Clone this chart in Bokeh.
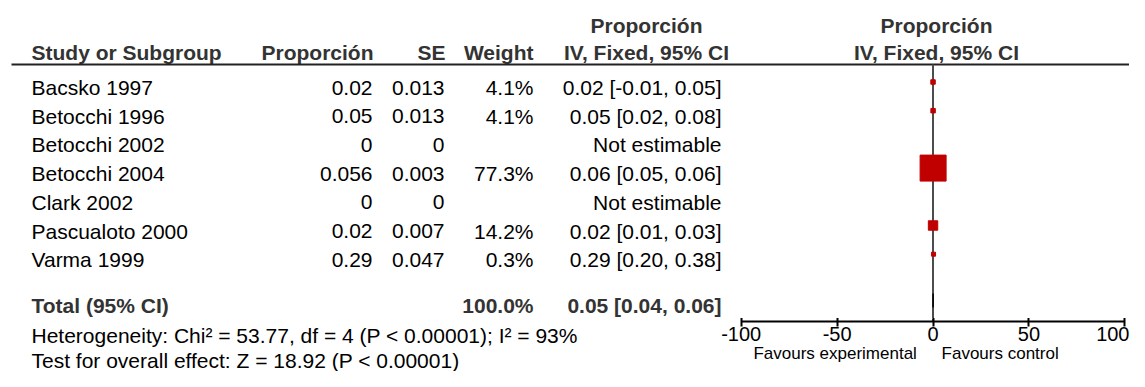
from bokeh.plotting import figure
from bokeh.layouts import column, row
from bokeh.models import Range1d, LinearAxis, FixedTicker, ColumnDataSource, Title
from bokeh.embed import file_html
from bokeh.resources import INLINE
from bokeh.core.properties import value

# ---------------- data ----------------
studies = ["Bacsko 1997", "Betocchi 1996", "Betocchi 2002", "Betocchi 2004",
           "Clark 2002", "Pascualoto 2000", "Varma 1999"]
prop_text = ["0.02", "0.05", "0", "0.056", "0", "0.02", "0.29"]
se_text = ["0.013", "0.013", "0", "0.003", "0", "0.007", "0.047"]
weights = [4.1, 4.1, None, 77.3, None, 14.2, 0.3]
est = [0.02, 0.05, None, 0.056, None, 0.02, 0.29]
ci_lo = [-0.01, 0.02, None, 0.05, None, 0.01, 0.20]
ci_hi = [0.05, 0.08, None, 0.06, None, 0.03, 0.38]
total_label = "Total (95% CI)"
total_weight = 100.0
total_est, total_lo, total_hi = 0.05, 0.04, 0.06
het_text = "Heterogeneity: Chi² = 53.77, df = 4 (P < 0.00001); I² = 93%"
test_text = "Test for overall effect: Z = 18.92 (P < 0.00001)"
x_ticks = [-100, -50, 0, 50, 100]
favours_left = "Favours experimental"
favours_right = "Favours control"

# ---------------- layout / style ----------------
W, H = 1129, 371
TOP_H = 318
BOT_H = H - TOP_H
L = 650
ZERO_X = 932.5
PPU = 1.918
FONT = "Liberation Sans"
FS = "21px"
HEAD_COL = "#333333"
RED = "#C00000"
ROW0_TXT = 87.0
ROW_H = 28.7
SQ_DY = -5.5
HEAD_Y = 64
FAV_POS = [-51, 35]


def forest_range(x0, x1):
    return Range1d((x0 - ZERO_X) / PPU, (x1 - ZERO_X) / PPU)


def base_fig(w, h, xr, yr, **kw):
    f = figure(width=w, height=h, x_range=xr, y_range=yr,
               output_backend="svg", toolbar_location=None,
               x_axis_location=None, y_axis_location=None,
               min_border_left=0, min_border_right=0, min_border_top=0,
               min_border_bottom=0, **kw)
    f.outline_line_color = None
    f.xgrid.visible = False
    f.ygrid.visible = False
    f.background_fill_color = "white"
    f.border_fill_color = "white"
    return f


common = dict(text_font=value(FONT), text_font_size=value(FS), text_baseline="middle")
hb = dict(text_font_style="bold", text_color=HEAD_COL, **common)

# ---------------- top: table + forest marks ----------------
top = base_fig(W, TOP_H, Range1d(0, W), Range1d(TOP_H, 0))
top.extra_x_ranges = {"forest": forest_range(0, W)}

n = len(studies)
txt_y = [ROW0_TXT + i * ROW_H for i in range(n)]
sq_y = [y + SQ_DY for y in txt_y]


def fmt_w(w):
    return "" if w is None else f"{w:.1f}%"


def fmt_ci(e, lo, hi):
    if e is None:
        return "Not estimable"
    return f"{e:.2f} [{lo:.2f}, {hi:.2f}]"


src = ColumnDataSource(dict(
    y=txt_y, study=studies, prop=prop_text, se=se_text,
    w=[fmt_w(w) for w in weights],
    ci=[fmt_ci(e, l, h) for e, l, h in zip(est, ci_lo, ci_hi)],
))

top.text(x=31, y="y", text="study", source=src, text_align="left", text_color="black", **common)
top.text(x=372, y="y", text="prop", source=src, text_align="right", text_color="black", **common)
top.text(x=444, y="y", text="se", source=src, text_align="right", text_color="black", **common)
top.text(x=533, y="y", text="w", source=src, text_align="right", text_color="black", **common)
top.text(x=721, y="y", text="ci", source=src, text_align="right", text_color="black", **common)

# headers
top.text(x=[31], y=[52], text=["Study or Subgroup"], text_align="left", **hb)
top.text(x=[373], y=[52], text=["Proporción"], text_align="right", **hb)
top.text(x=[445], y=[52], text=["SE"], text_align="right", **hb)
top.text(x=[533], y=[52], text=["Weight"], text_align="right", **hb)
top.text(x=[646, 646], y=[24.5, 52], text=["Proporción", "IV, Fixed, 95% CI"], text_align="center", **hb)
top.text(x=[936, 936], y=[24.5, 52], text=["Proporción", "IV, Fixed, 95% CI"], text_align="center", **hb)

# total row
tot_y = 305
top.text(x=[31], y=[tot_y], text=[total_label], text_align="left", **hb)
top.text(x=[533], y=[tot_y], text=[f"{total_weight:.1f}%"], text_align="right", **hb)
top.text(x=[721], y=[tot_y], text=[fmt_ci(total_est, total_lo, total_hi)], text_align="right", **hb)

# header rule
top.segment(x0=[11], y0=[HEAD_Y], x1=[W], y1=[HEAD_Y], line_color="#222222", line_width=2)

# zero line
top.segment(x0=[0], y0=[HEAD_Y], x1=[0], y1=[TOP_H], x_range_name="forest",
            line_color="#4d4d4d", line_width=2)

# CI whiskers and squares
idx = [i for i in range(n) if est[i] is not None]
top.segment(x0=[ci_lo[i] for i in idx], x1=[ci_hi[i] for i in idx],
            y0=[sq_y[i] for i in idx], y1=[sq_y[i] for i in idx],
            x_range_name="forest", line_color="black", line_width=1)
wmax = max(weights[i] for i in idx)
sizes = [max(4.0, 26.0 * (weights[i] / wmax) ** 0.6) for i in idx]
top.scatter(x=[est[i] for i in idx], y=[sq_y[i] for i in idx], size=sizes,
            marker="square", fill_color=RED, line_color=RED, x_range_name="forest")

# total diamond
dy = 300
top.patch(x=[total_lo, total_est, total_hi, total_est], y=[dy, dy - 7, dy, dy + 7],
          x_range_name="forest", fill_color="black", line_color="black", line_width=1.5)

# ---------------- bottom left: footer texts (as titles below an empty frame) ----------------
foot = base_fig(L, BOT_H, Range1d(0, L), Range1d(0, 1))
for txt in (het_text, test_text):
    foot.add_layout(Title(text=txt, align="left", offset=31, standoff=0,
                          text_font=FONT, text_font_size=FS, text_font_style="normal",
                          text_color="black"), "below")

# ---------------- bottom right: axis ----------------
axf = base_fig(W - L, BOT_H, forest_range(L, W), Range1d(0, 1))
axf.segment(x0=[0], y0=[0], x1=[0], y1=[1], line_color="#4d4d4d", line_width=2)

ax = LinearAxis(ticker=FixedTicker(ticks=x_ticks), bounds=(-100, 100))
ax.major_label_overrides = {t: str(t) for t in x_ticks}
ax.axis_line_width = 2
ax.axis_line_color = "black"
ax.major_tick_line_width = 2
ax.major_tick_line_color = "black"
ax.major_tick_in = 8
ax.major_tick_out = 5
ax.minor_tick_line_color = None
ax.major_label_standoff = 0
ax.major_label_text_font = FONT
ax.major_label_text_font_size = "20px"
ax.major_label_text_color = "black"
axf.add_layout(ax, "below")

fav = LinearAxis(ticker=FixedTicker(ticks=FAV_POS))
fav.major_label_overrides = {FAV_POS[0]: favours_left, FAV_POS[1]: favours_right}
fav.axis_line_color = None
fav.major_tick_line_color = None
fav.minor_tick_line_color = None
fav.major_tick_in = 0
fav.major_tick_out = 0
fav.major_label_standoff = 0
fav.major_label_text_font = FONT
fav.major_label_text_font_size = "17px"
fav.major_label_text_color = "black"
axf.add_layout(fav, "below")

layout = column(top, row(foot, axf, spacing=0), spacing=0)

open("out.html", "w").write(file_html(layout, INLINE))
